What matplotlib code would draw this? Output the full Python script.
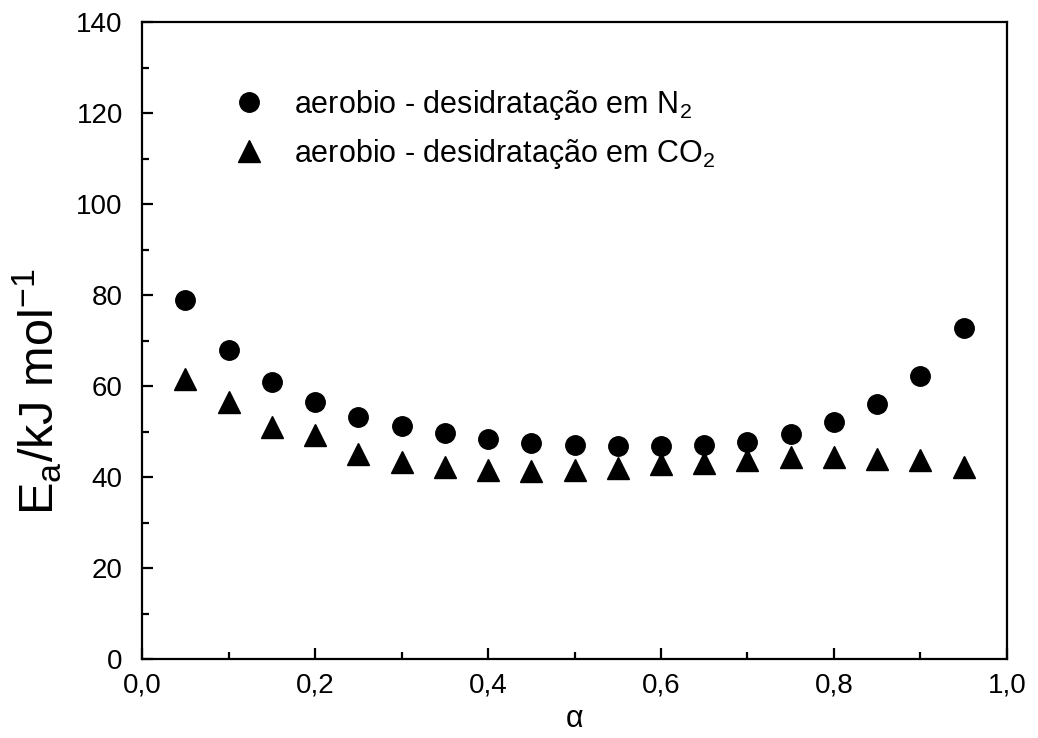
import numpy as np
import matplotlib
matplotlib.use('Agg')
import matplotlib.pyplot as plt
from matplotlib.ticker import MultipleLocator, FuncFormatter

# ====== Data ======
alpha = [0.05, 0.10, 0.15, 0.20, 0.25, 0.30, 0.35, 0.40, 0.45, 0.50,
         0.55, 0.60, 0.65, 0.70, 0.75, 0.80, 0.85, 0.90, 0.95]
ea_n2 = [79.0, 68.0, 61.0, 56.5, 53.3, 51.2, 49.6, 48.3, 47.4, 47.0,
         46.9, 46.8, 47.0, 47.8, 49.4, 52.1, 56.0, 62.2, 72.8]
ea_co2 = [61.5, 56.5, 51.0, 49.3, 45.0, 43.3, 42.3, 41.5, 41.3, 41.5,
          42.0, 42.8, 43.2, 43.8, 44.5, 44.5, 44.0, 43.8, 42.3]
label_n2 = 'aerobio - desidratação em N$_2$'
label_co2 = 'aerobio - desidratação em CO$_2$'
# ==================

plt.rcParams['font.family'] = ['Liberation Sans', 'DejaVu Sans']
plt.rcParams['mathtext.fontset'] = 'custom'
plt.rcParams['mathtext.rm'] = 'Liberation Sans'
plt.rcParams['mathtext.it'] = 'Liberation Sans:italic'
plt.rcParams['mathtext.default'] = 'regular'

fig = plt.figure(figsize=(10.38, 7.38), dpi=100)
ax = fig.add_axes([0.137, 0.107, 0.833, 0.863])

ax.plot(alpha, ea_n2, 'o', color='black', ms=14, label=label_n2)
ax.plot(alpha, ea_co2, '^', color='black', ms=16, label=label_co2)

ax.set_xlim(0, 1.0)
ax.set_ylim(0, 140)
ax.xaxis.set_major_locator(MultipleLocator(0.2))
ax.xaxis.set_minor_locator(MultipleLocator(0.1))
ax.yaxis.set_major_locator(MultipleLocator(20))
ax.yaxis.set_minor_locator(MultipleLocator(10))
ax.xaxis.set_major_formatter(FuncFormatter(lambda v, p: f'{v:.1f}'.replace('.', ',')))

for s in ax.spines.values():
    s.set_linewidth(1.6)
ax.tick_params(which='both', direction='in', width=1.6, labelsize=20)
ax.tick_params(which='major', length=8)
ax.tick_params(which='minor', length=5)
ax.tick_params(axis='x', which='major', pad=10)
ax.tick_params(axis='y', which='major', pad=14)

ax.set_xlabel('α', fontsize=22, labelpad=4)
ax.set_ylabel('E$_a$/kJ mol$^{-1}$', fontsize=35)
ax.yaxis.set_label_coords(-0.09, 0.42)

ax.legend(loc='upper left', bbox_to_anchor=(0.07, 0.94), frameon=False,
          fontsize=22, handletextpad=0.9, labelspacing=0.5, handlelength=1.2)

fig.savefig('out.png', dpi=100)
